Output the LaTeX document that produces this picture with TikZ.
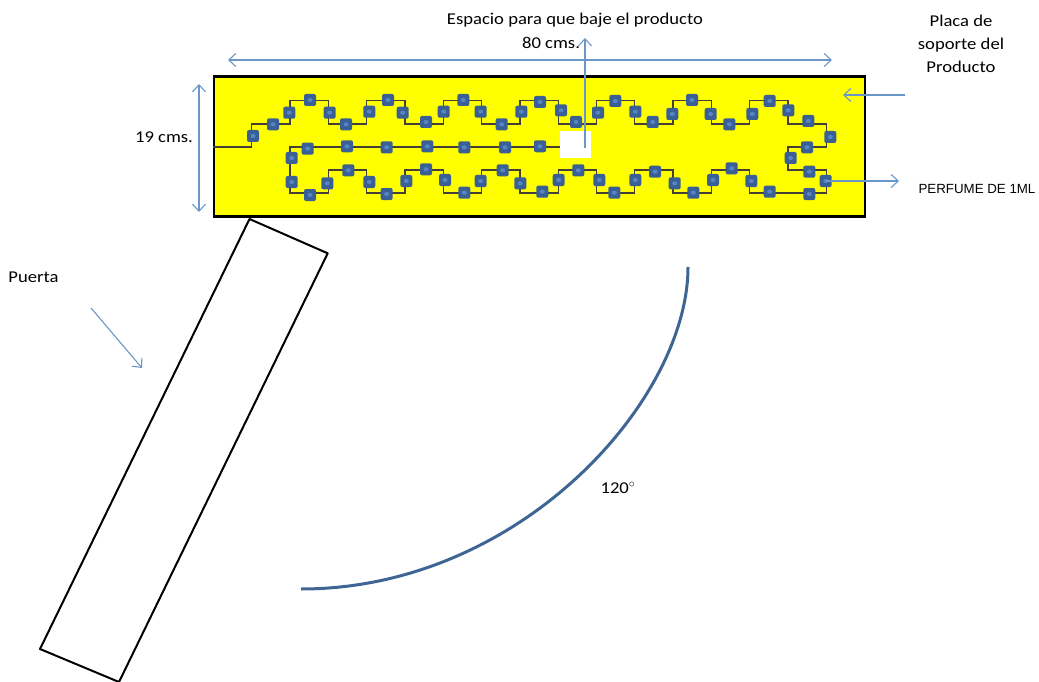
\documentclass[tikz,border=0pt]{standalone}
\usepackage{amsmath,amssymb}
\usepackage{fontspec}
\setmainfont[FakeStretch=1.13]{Carlito}
\newfontfamily\arialfont{Liberation Sans}
\usetikzlibrary{arrows.meta}
\definecolor{plateyellow}{RGB}{255,255,0}
\definecolor{chipblue}{HTML}{3A5F94}
\definecolor{chipcorecol}{HTML}{5585C2}
\definecolor{arrowblue}{HTML}{6A96C8}
\definecolor{arcblue}{HTML}{3F6595}
\tikzset{
  plate/.style={draw=black,line width=2.4pt,fill=plateyellow,minimum width=651pt,minimum height=140pt,inner sep=0pt},
  hole/.style={fill=white,minimum width=31pt,minimum height=27pt,inner sep=0pt},
  wire/.style={draw=black!85!yellow,line width=1.3pt},
  chipcore/.style={fill=chipcorecol,minimum width=5pt,minimum height=4pt,inner sep=0pt},
  chip/.style={fill=chipblue,rounded corners=2pt,minimum size=12pt,inner sep=0pt,
    path picture={\node[chipcore] at (path picture bounding box.center) {};}},
  pointer/.style={draw=arrowblue,line width=1.1pt,-{Straight Barb[length=7pt,width=13pt]}},
  measure/.style={draw=arrowblue,line width=1.1pt,{Straight Barb[length=7pt,width=13pt]}-{Straight Barb[length=7pt,width=13pt]}},
  label/.style={font=\fontsize{16.5}{23}\selectfont,align=center,inner sep=0pt}
}
\begin{document}
\begin{tikzpicture}[x=1pt,y=-1pt]
        \useasboundingbox (0,0) rectangle (1039,682);
        \node[plate] (placa) at (539.5,146.5) {};
        \coordinate (wirein) at (placa.west |- 0,147);
        \node[hole] (hueco) at (575.5,144.5) {};
        \draw[wire] (wirein) -- ++(39,0) -- ++(0,-23) -- ++(38.3,0) -- ++(0,-23.5)
          -- ++(38.3,0) -- ++(0,23.5) -- ++(38.3,0) -- ++(0,-23.5)
          -- ++(38.3,0) -- ++(0,23.5) -- ++(38.3,0) -- ++(0,-23.5)
          -- ++(38.3,0) -- ++(0,23.5) -- ++(38.3,0) -- ++(0,-23.5)
          -- ++(38.3,0) -- ++(0,23.5) -- ++(38.3,0) -- ++(0,-23.5)
          -- ++(38.3,0) -- ++(0,23.5) -- ++(38.3,0) -- ++(0,-23.5)
          -- ++(38.3,0) -- ++(0,23.5) -- ++(38.3,0) -- ++(0,-23.5)
          -- ++(38.3,0) -- ++(0,23.5) -- ++(38.3,0) -- ++(0,23)
          -- ++(-38.3,0) -- ++(0,23) -- ++(38.3,0) -- ++(0,23)
          -- ++(-76.6,0) -- ++(0,-23) -- ++(-38.3,0) -- ++(0,23)
          -- ++(-38.3,0) -- ++(0,-23) -- ++(-38.3,0) -- ++(0,23)
          -- ++(-38.3,0) -- ++(0,-23) -- ++(-38.3,0) -- ++(0,23)
          -- ++(-38.3,0) -- ++(0,-23) -- ++(-38.3,0) -- ++(0,23)
          -- ++(-38.3,0) -- ++(0,-23) -- ++(-38.3,0) -- ++(0,23)
          -- ++(-38.3,0) -- ++(0,-23) -- ++(-38.3,0) -- ++(0,23)
          -- ++(-38.3,0) -- ++(0,-46) -- (hueco.west |- 0,147);
        \node[chip] (c1) at (253,136) {};
        \node[chip] (c2) at (273,124.3) {};
        \node[chip] (c3) at (289.3,112.7) {};
        \node[chip] (c4) at (310,100) {};
        \node[chip] (c5) at (329.7,112.7) {};
        \node[chip] (c6) at (346,124.3) {};
        \node[chip] (c7) at (369.3,111.7) {};
        \node[chip] (c8) at (388,100) {};
        \node[chip] (c9) at (402.7,112.7) {};
        \node[chip] (c10) at (426,122) {};
        \node[chip] (c11) at (443.7,111.7) {};
        \node[chip] (c12) at (463.3,100) {};
        \node[chip] (c13) at (480.7,111.7) {};
        \node[chip] (c14) at (501.7,124.3) {};
        \node[chip] (c15) at (521.3,111.7) {};
        \node[chip] (c16) at (540,102) {};
        \node[chip] (c17) at (561,110.3) {};
        \node[chip] (c18) at (576,122) {};
        \node[chip] (c19) at (598,112.7) {};
        \node[chip] (c20) at (615.3,101) {};
        \node[chip] (c21) at (635.3,111.7) {};
        \node[chip] (c22) at (652.7,122) {};
        \node[chip] (c23) at (672.3,114) {};
        \node[chip] (c24) at (692,100) {};
        \node[chip] (c25) at (710.7,114) {};
        \node[chip] (c26) at (729.3,124.3) {};
        \node[chip] (c27) at (752.3,114) {};
        \node[chip] (c28) at (769.7,101) {};
        \node[chip] (c29) at (788.3,110.3) {};
        \node[chip] (c30) at (808.3,121) {};
        \node[chip] (c31) at (830.3,137) {};
        \node[chip] (c32) at (807,147.3) {};
        \node[chip] (c33) at (790.7,158) {};
        \node[chip] (c34) at (809.3,171.7) {};
        \node[chip] (c35) at (825.7,181) {};
        \node[chip] (c36) at (809.3,194) {};
        \node[chip] (c37) at (769.7,191.7) {};
        \node[chip] (c38) at (751.3,181) {};
        \node[chip] (c39) at (731.7,168.3) {};
        \node[chip] (c40) at (713,180) {};
        \node[chip] (c41) at (693.3,192.7) {};
        \node[chip] (c42) at (674.7,183.3) {};
        \node[chip] (c43) at (655,171.7) {};
        \node[chip] (c44) at (635.3,180) {};
        \node[chip] (c45) at (614.3,192.7) {};
        \node[chip] (c46) at (599.3,180) {};
        \node[chip] (c47) at (578.3,170.3) {};
        \node[chip] (c48) at (558.7,180) {};
        \node[chip] (c49) at (542.3,191.7) {};
        \node[chip] (c50) at (520.3,183.3) {};
        \node[chip] (c51) at (502.7,170.3) {};
        \node[chip] (c52) at (480.7,181) {};
        \node[chip] (c53) at (464.3,192.7) {};
        \node[chip] (c54) at (445,180) {};
        \node[chip] (c55) at (426,169.3) {};
        \node[chip] (c56) at (406.3,181) {};
        \node[chip] (c57) at (386.7,194) {};
        \node[chip] (c58) at (369.3,182) {};
        \node[chip] (c59) at (348.3,170.3) {};
        \node[chip] (c60) at (327.3,183.3) {};
        \node[chip] (c61) at (310,195) {};
        \node[chip] (c62) at (291.7,182) {};
        \node[chip] (c63) at (291.7,158) {};
        \node[chip] (c64) at (307.7,148.7) {};
        \node[chip] (c65) at (347,146.3) {};
        \node[chip] (c66) at (386.7,147.3) {};
        \node[chip] (c67) at (427.3,146.3) {};
        \node[chip] (c68) at (464.3,147.3) {};
        \node[chip] (c69) at (505,147.3) {};
        \node[chip] (c70) at (540,146.3) {};
        \node[label] (espacio) at (575,20) {Espacio para que baje el producto};
        \node[label] (ochenta) at (551,43) {80 cms.};
        \node[label] (placatxt) at (961,44) {Placa de\\soporte del\\Producto};
        \node[label] (diecinueve) at (164,137) {19 cms.};
        \node[label] (puerta) at (33.5,277) {Puerta};
        \node[label] (grados) at (618,488) {120$^{\circ}$};
        \node[font=\arialfont\fontsize{13.3}{16}\selectfont,inner sep=0pt] (perfume) at (977,189) {PERFUME DE 1ML};
        \coordinate (ancho1) at (228,60);
        \coordinate (ancho2) at (832,60);
        \coordinate (alto1) at (199,84);
        \coordinate (alto2) at (199,212);
        \coordinate (bajada) at (585,148);
        \coordinate (subida) at (585,38);
        \coordinate (placa1) at (905,95);
        \coordinate (placa2) at (843,95);
        \coordinate (perfume1) at (899,181);
        \coordinate (puerta1) at (91,308);
        \coordinate (puerta2) at (142,368);
        \draw[measure] (ancho1) -- (ancho2);
        \draw[measure] (alto1) -- (alto2);
        \draw[pointer] (bajada) -- (subida);
        \draw[pointer] (placa1) -- (placa2);
        \draw[pointer] (c35.center) -- (perfume1);
        \draw[pointer] (puerta1) -- (puerta2);
        \coordinate (door1) at (249.5,219);
        \coordinate (door2) at (327.7,253.3);
        \coordinate (door3) at (119,682);
        \coordinate (door4) at (40,649);
        \draw[line width=2pt,line join=round] (door1) -- (door2) -- (door3) -- (door4) -- cycle;
        \coordinate (arco1) at (688,267);
        \coordinate (arco2) at (301,589);
        \draw[draw=arcblue,line width=3pt] (arco1) .. controls (688,400) and (520,589) .. (arco2);
\end{tikzpicture}
\end{document}
